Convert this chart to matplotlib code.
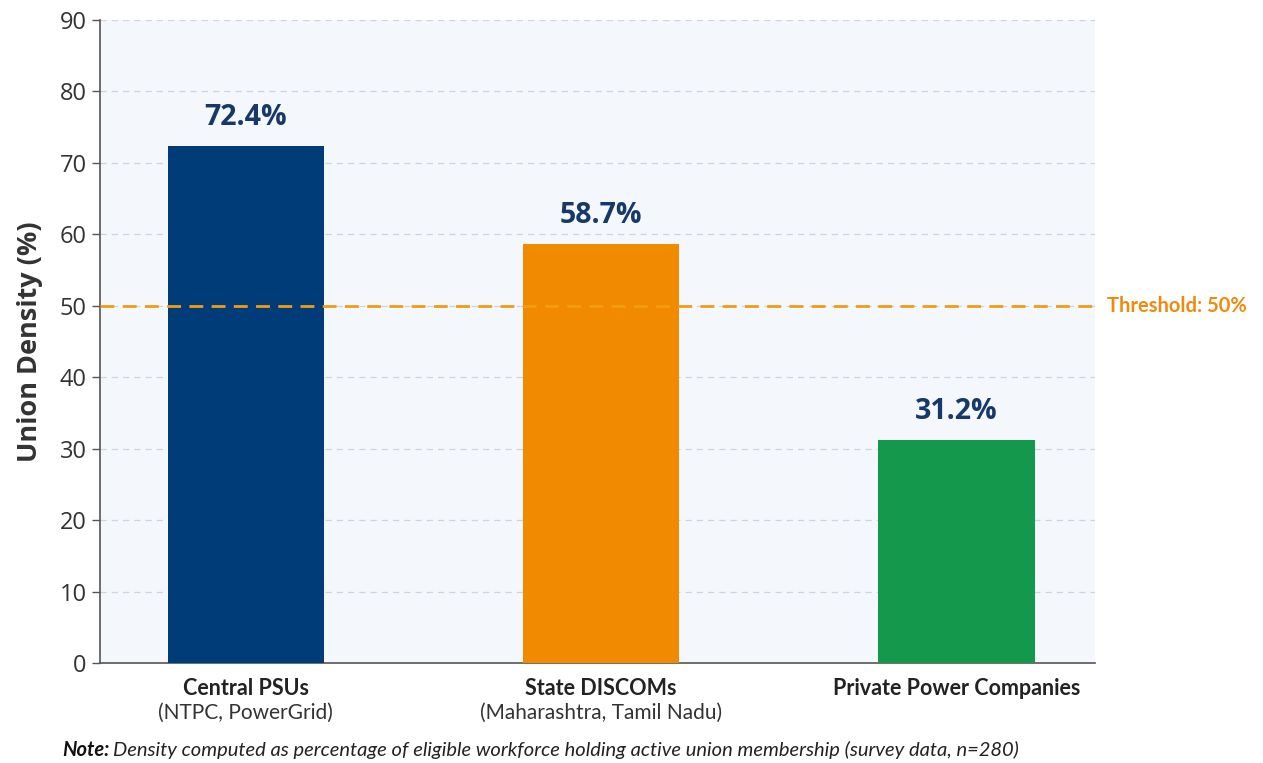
import numpy as np
import matplotlib.pyplot as plt
import matplotlib.transforms as mtransforms

# chart data
categories = ['Central PSUs', 'State DISCOMs', 'Private Power Companies']
subtitles = ['(NTPC, PowerGrid)', '(Maharashtra, Tamil Nadu)', '']
density = [72.4, 58.7, 31.2]
bar_colors = ['#003c78', '#f28a00', '#14984c']
threshold = 50
yticks = list(range(0, 100, 10))

fig = plt.figure(figsize=(12.63, 7.63), dpi=100)
ax = fig.add_axes([0.0792, 0.131, 0.788, 0.843])
ax.set_facecolor('#f4f7fc')

x = np.arange(len(categories))
bars = ax.bar(x, density, width=0.44, color=bar_colors, zorder=3)

# value labels
for rect, v in zip(bars, density):
    ax.text(rect.get_x() + rect.get_width() / 2, v + 1.9, '%.1f%%' % v,
            ha='center', va='bottom', fontsize=20.5, fontweight='bold',
            color='#17396a', family='Open Sans', zorder=4)

# threshold line
ax.axhline(threshold, color='#f39c12', lw=2, ls=(0, (5, 3)), zorder=4)
ax.text(1.012, threshold, 'Threshold: %d%%' % threshold, transform=ax.get_yaxis_transform(),
        ha='left', va='center', fontsize=14.5, fontweight='bold', color='#f08a0c', family='Lato')

ax.set_ylim(0, 90)
ax.set_xlim(-0.41, 2.39)
ax.set_yticks(yticks)
ax.yaxis.grid(True, color='#cfd4dc', ls=(0, (5, 4)), lw=0.9, zorder=0)
ax.tick_params(axis='y', labelsize=17, length=6, width=1, color='#555555', labelcolor='#333333')
for lab in ax.get_yticklabels():
    lab.set_family('Open Sans')

ax.set_xticks(x)
ax.set_xticklabels(categories, fontsize=15.5, fontweight='bold', family='Lato', color='#222222')
ax.tick_params(axis='x', length=0, pad=11)
trans = mtransforms.blended_transform_factory(ax.transData, ax.transAxes)
for xi, s in zip(x, subtitles):
    if s:
        ax.text(xi, -0.062, s, transform=trans, ha='center', va='top',
                fontsize=15, family='Lato', color='#333333')

for side in ['top', 'right']:
    ax.spines[side].set_visible(False)
for side in ['left', 'bottom']:
    ax.spines[side].set_color('#555555')
    ax.spines[side].set_linewidth(1.2)

ax.set_ylabel('Union Density (%)', fontsize=19.5, fontweight='bold', color='#333333',
              family='Open Sans', labelpad=12)

note = fig.text(0.049, 0.009, 'Note:', fontsize=14.5, style='italic', fontweight='bold',
                family='Lato', color='#111111')
fig.canvas.draw()
bb = note.get_window_extent()
fig.text((bb.x1 + 4) / fig.bbox.width, 0.009,
         'Density computed as percentage of eligible workforce holding active union membership (survey data, n=280)',
         fontsize=14.5, style='italic', family='Lato', color='#222222')

fig.savefig('out.png', dpi=100)
